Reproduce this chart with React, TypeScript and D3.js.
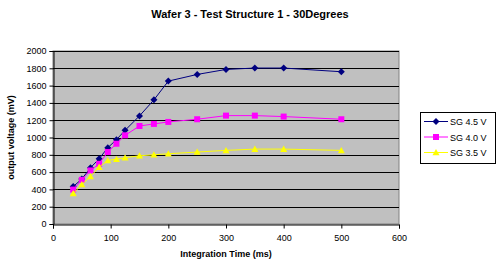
import { useEffect, useRef } from 'react';
import * as d3 from 'd3';

// Integration time (ms)
const TIMES = [35, 50, 65, 80, 95, 110, 125, 150, 175, 200, 250, 300, 350, 400, 500];

// Output voltage (mV) per series
const SG45 = [433, 520, 650, 754, 882, 975, 1083, 1250, 1435, 1652, 1729, 1787, 1803, 1803, 1760];
const SG40 = [398, 510, 619, 696, 832, 928, 1025, 1133, 1157, 1180, 1211, 1253, 1253, 1242, 1211];
const SG35 = [352, 456, 549, 658, 735, 750, 766, 789, 800, 812, 832, 851, 866, 866, 851];

const SERIES_NAMES = ['SG 4.5 V', 'SG 4.0 V', 'SG 3.5 V'];
const SERIES_COLOURS = ['#000080', '#ff00ff', '#ffff00'];
const SERIES_SHAPES = ['diamond', 'square', 'triangle'];

const X_TICKS = [0, 100, 200, 300, 400, 500, 600];
const Y_TICKS = [0, 200, 400, 600, 800, 1000, 1200, 1400, 1600, 1800, 2000];

const W = 498;
const H = 278;
const PLOT = { left: 53, right: 399, top: 51, bottom: 224 };
const FONT = 'Arial, "Liberation Sans", sans-serif';

function markerPath(shape: string, s: number) {
  if (shape === 'diamond') return `M0,${-s}L${s},0L0,${s}L${-s},0Z`;
  if (shape === 'square') return `M${-s},${-s}H${s}V${s}H${-s}Z`;
  return `M0,${-s}L${s},${s * 0.8}L${-s},${s * 0.8}Z`;
}

export default function App() {
  const svgRef = useRef<SVGSVGElement>(null);

  useEffect(() => {
    if (!svgRef.current) return;
    const svg = d3.select(svgRef.current);
    svg.selectAll('*').remove();

    const x = d3.scaleLinear().domain([0, 600]).range([PLOT.left, PLOT.right]);
    const y = d3.scaleLinear().domain([0, 2000]).range([PLOT.bottom, PLOT.top]);

    svg.append('rect').attr('width', W).attr('height', H).attr('fill', '#ffffff');

    // Title
    svg.append('text')
      .attr('x', 250).attr('y', 18)
      .attr('text-anchor', 'middle')
      .attr('font-family', FONT).attr('font-weight', 'bold').attr('font-size', 11)
      .text('Wafer 3 - Test Structure 1 - 30Degrees');

    // Plot area
    svg.append('rect')
      .attr('x', PLOT.left).attr('y', PLOT.top)
      .attr('width', PLOT.right - PLOT.left).attr('height', PLOT.bottom - PLOT.top)
      .attr('fill', '#c0c0c0').attr('stroke', '#808080').attr('stroke-width', 1);

    // Gridlines
    svg.append('g').selectAll('line')
      .data(Y_TICKS.filter((d) => d > 0))
      .join('line')
      .attr('x1', PLOT.left).attr('x2', PLOT.right)
      .attr('y1', (d) => Math.round(y(d)) + 0.5).attr('y2', (d) => Math.round(y(d)) + 0.5)
      .attr('stroke', '#000000').attr('stroke-width', 1);

    // Axes
    const xAxis = svg.append('g')
      .attr('transform', `translate(0,${PLOT.bottom + 0.5})`)
      .call(d3.axisBottom(x).tickValues(X_TICKS).tickFormat(d3.format('d')).tickSize(4).tickPadding(6));
    const yAxis = svg.append('g')
      .attr('transform', `translate(${PLOT.left + 0.5},0)`)
      .call(d3.axisLeft(y).tickValues(Y_TICKS).tickFormat(d3.format('d')).tickSize(4).tickPadding(3));
    [xAxis, yAxis].forEach((a) => {
      a.select('.domain').attr('stroke', '#000');
      a.selectAll('line').attr('stroke', '#000');
      a.selectAll('text').attr('font-family', FONT).attr('font-size', 9).attr('fill', '#000');
    });

    // Axis titles
    svg.append('text')
      .attr('x', (PLOT.left + PLOT.right) / 2).attr('y', 257)
      .attr('text-anchor', 'middle')
      .attr('font-family', FONT).attr('font-weight', 'bold').attr('font-size', 9)
      .text('Integration Time (ms)');
    svg.append('text')
      .attr('transform', `translate(14,${(PLOT.top + PLOT.bottom) / 2}) rotate(-90)`)
      .attr('text-anchor', 'middle')
      .attr('font-family', FONT).attr('font-weight', 'bold').attr('font-size', 9)
      .text('output voltage (mV)');

    // Series
    const allSeries = [SG45, SG40, SG35];
    const line = d3.line<number>().x((_, i) => x(TIMES[i])).y((d) => y(d));
    allSeries.forEach((vals, si) => {
      svg.append('path')
        .attr('d', line(vals))
        .attr('fill', 'none')
        .attr('stroke', SERIES_COLOURS[si])
        .attr('stroke-width', 1);
      svg.append('g').selectAll('path')
        .data(vals)
        .join('path')
        .attr('transform', (d, i) => `translate(${x(TIMES[i])},${y(d)})`)
        .attr('d', markerPath(SERIES_SHAPES[si], si === 1 ? 3 : 3.5))
        .attr('fill', SERIES_COLOURS[si]);
    });

    // Legend
    const lg = svg.append('g').attr('transform', 'translate(420,112)');
    lg.append('rect')
      .attr('x', 0.5).attr('y', 0.5).attr('width', 75).attr('height', 51)
      .attr('fill', '#ffffff').attr('stroke', '#000000');
    SERIES_NAMES.forEach((name, i) => {
      const cy = 9.5 + i * 15.5;
      lg.append('line')
        .attr('x1', 4).attr('x2', 28).attr('y1', cy).attr('y2', cy)
        .attr('stroke', SERIES_COLOURS[i]);
      lg.append('path')
        .attr('transform', `translate(16,${cy})`)
        .attr('d', markerPath(SERIES_SHAPES[i], i === 1 ? 3 : 3.5))
        .attr('fill', SERIES_COLOURS[i]);
      lg.append('text')
        .attr('x', 30).attr('y', cy + 3.5)
        .attr('font-family', FONT).attr('font-size', 9)
        .text(name);
    });
  }, []);

  return (
    <svg
      ref={svgRef}
      width={W}
      height={H}
      style={{ display: 'block', position: 'absolute', left: 0, top: 0 }}
    />
  );
}
